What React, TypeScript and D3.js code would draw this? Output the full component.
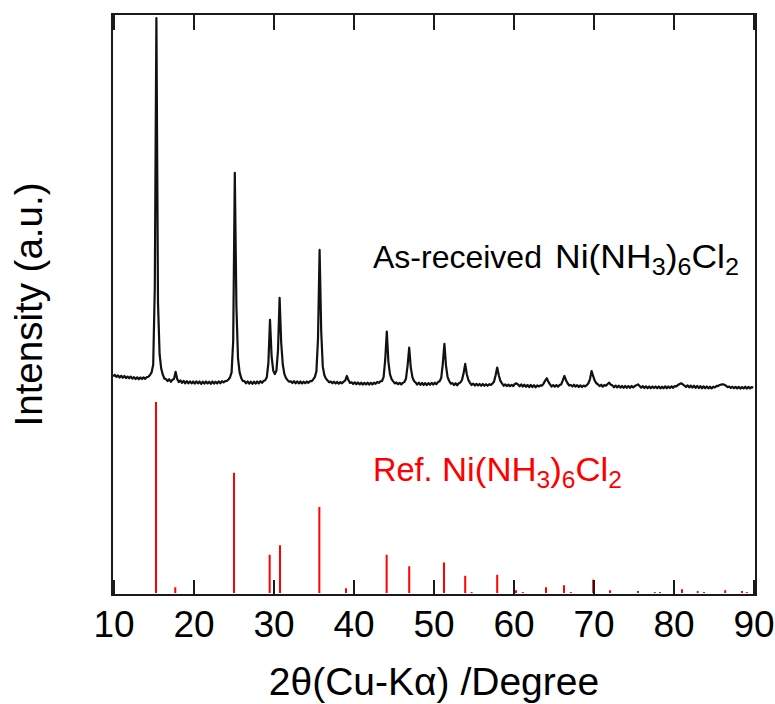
import React from 'react';
import * as d3 from 'd3';

const obsStart = 9.9;
const obsStep = 0.2;
const obsIntensity: number[] = [
  113.4, 114.2, 113.1, 113.9, 112.8, 113.7, 112.7, 113.6, 112.5, 113.3,
  112.4, 113.3, 112.2, 113.0, 112.0, 112.9, 111.9, 112.8, 112.0, 112.9,
  112.1, 113.0, 113.2, 114.1, 115.5, 119.5, 160, 301, 152, 125,
  117.5, 114.3, 112.2, 112.0, 110.9, 111.9, 110.6, 111.6, 112.0, 115.8,
  112.0, 110.4, 111.3, 110.0, 111.0, 109.8, 110.9, 109.8, 110.8, 109.7,
  110.7, 109.6, 110.8, 109.7, 110.7, 109.5, 110.6, 109.6, 110.7, 109.7,
  110.6, 109.5, 110.7, 109.6, 110.6, 109.7, 110.8, 109.8, 110.9, 110.2,
  110.9, 111.0, 111.8, 112.8, 115.5, 132, 220, 150, 123, 115.5,
  112.6, 111.0, 110.9, 109.8, 110.8, 109.6, 110.6, 109.5, 110.6, 109.6,
  110.7, 109.7, 110.9, 110.0, 111.0, 111.4, 113.0, 120.5, 143, 124,
  116.5, 114.6, 116.3, 127, 154.5, 131, 119.5, 114.6, 112.5, 111.4,
  110.6, 110.8, 109.9, 110.9, 109.8, 110.8, 109.7, 110.7, 109.7, 110.6,
  109.8, 110.7, 110.0, 110.9, 110.9, 111.8, 113.0, 116.0, 133, 179.6,
  137, 118.5, 114.0, 112.2, 111.2, 110.3, 110.7, 109.8, 110.6, 109.7,
  110.5, 109.6, 110.4, 109.8, 110.6, 111.2, 113.6, 111.5, 110.0, 110.3,
  109.4, 110.3, 109.3, 110.2, 109.2, 110.1, 109.1, 110.0, 109.2, 110.1,
  109.1, 110.0, 109.2, 110.1, 109.5, 110.4, 110.0, 110.8, 111.0, 113.0,
  122, 136.8, 121, 114.5, 112.0, 110.8, 109.7, 110.2, 109.3, 110.0,
  109.2, 110.0, 110.4, 112.3, 119, 128.4, 118, 113.0, 111.0, 110.2,
  109.1, 110.1, 109.0, 110.0, 108.9, 109.9, 108.8, 109.9, 109.0, 110.0,
  109.1, 110.1, 109.3, 110.4, 110.8, 112.5, 120, 130.4, 119, 113.0,
  111.0, 109.6, 109.9, 108.8, 109.8, 108.7, 109.8, 110.2, 111.5, 115.0,
  119.9, 114.5, 111.5, 110.0, 108.9, 109.6, 108.6, 109.5, 108.6, 109.4,
  108.5, 109.4, 108.5, 109.3, 108.5, 109.3, 108.9, 109.6, 110.6, 114.0,
  118.0, 114.0, 111.0, 109.7, 108.5, 109.2, 108.3, 109.1, 108.2, 109.0,
  108.3, 109.4, 109.8, 109.1, 108.2, 109.2, 108.1, 109.0, 107.9, 108.9,
  107.8, 108.9, 107.8, 108.8, 107.7, 108.7, 108.1, 108.7, 108.6, 109.6,
  111.2, 112.4, 110.5, 109.2, 108.1, 108.8, 108.0, 108.8, 108.0, 108.9,
  109.2, 111.3, 113.6, 111.4, 109.8, 108.6, 108.9, 108.1, 109.0, 108.0,
  108.8, 107.8, 108.7, 107.8, 108.6, 108.1, 108.8, 109.8, 112.0, 116.2,
  113.5, 111.0, 109.8, 109.2, 108.3, 109.0, 108.0, 108.9, 108.5, 109.4,
  110.1, 109.0, 108.7, 107.7, 108.6, 107.6, 108.5, 107.5, 108.4, 107.4,
  108.4, 107.4, 108.3, 107.4, 108.4, 107.6, 108.3, 108.7, 109.2, 108.4,
  107.5, 108.3, 107.3, 108.2, 107.2, 108.1, 107.2, 108.1, 107.3, 108.1,
  107.2, 108.1, 107.1, 108.0, 107.2, 108.2, 107.2, 108.1, 107.3, 108.2,
  107.4, 108.3, 108.2, 108.9, 109.4, 109.8, 109.2, 108.6, 107.8, 108.7,
  107.6, 108.6, 107.5, 108.5, 107.4, 108.4, 107.3, 108.3, 107.2, 108.2,
  107.2, 108.1, 107.1, 108.0, 107.1, 108.0, 107.6, 108.4, 108.3, 108.9,
  109.1, 109.3, 109.0, 108.5, 107.8, 108.0, 107.3, 108.0, 107.2, 107.9,
  107.1, 107.9, 107.0, 107.8, 107.1, 108.0, 107.0, 107.9, 107.1, 107.8,
  107.4,
];

// Reference pattern (stick positions in 2θ and relative intensities)
const refPos: number[] = [
  15.25, 17.66, 25.0, 29.46, 30.75, 35.67, 39.0, 44.08, 46.9, 51.25,
  53.9, 54.7, 57.9, 60.25, 61.1, 64.0, 66.25, 67.1, 69.9, 72.0,
  75.5, 77.6, 78.25, 81.0, 82.96, 83.75, 86.4, 88.5, 89.1,
];
const refIntensity: number[] = [
  100, 3, 63, 20, 25, 45, 2.5, 20, 14, 16,
  9, 0.5, 9.5, 1.5, 0.5, 3, 4, 0.5, 7, 1.5,
  1, 0.5, 0.5, 2, 1, 0.5, 1.5, 1, 0.5,
];

const xTicks: number[] = [10, 20, 30, 40, 50, 60, 70, 80, 90];

const W = 775;
const H = 704;
const FONT = '"Liberation Sans", Arial, sans-serif';

function Formula({ x, y, fill, width }: { x: number; y: number; fill: string; width: number }) {
  return (
    <text
      x={x}
      y={y}
      fontFamily={FONT}
      fontSize={32.5}
      fill={fill}
      textLength={width}
      lengthAdjust="spacingAndGlyphs"
    >
      Ni(NH
      <tspan dy={7} fontSize={23}>3</tspan>
      <tspan dy={-7}>)</tspan>
      <tspan dy={7} fontSize={23}>6</tspan>
      <tspan dy={-7}>Cl</tspan>
      <tspan dy={7} fontSize={23}>2</tspan>
    </text>
  );
}

export default function App() {
  const left = 112, right = 756, top = 14, bottom = 595;
  const x = d3.scaleLinear().domain([9.75, 90.25]).range([left, right]);
  const y = d3.scaleLinear().domain([-1.05, 303.1]).range([bottom, top]);

  const obsData: [number, number][] = obsIntensity.map((v, i) => [obsStart + i * obsStep, v]);
  const line = d3
    .line<[number, number]>()
    .x((d) => x(d[0]))
    .y((d) => y(d[1]));

  const tickLen = 15;
  const axisColor = '#1a1a1a';

  return (
    <svg
      width={W}
      height={H}
      style={{ position: 'absolute', left: 0, top: 0, display: 'block', background: '#fff' }}
    >
      {/* reference sticks */}
      <g stroke="#ff0000" strokeWidth={2}>
        {refPos.map((p, i) => (
          <line key={i} x1={x(p)} x2={x(p)} y1={y(0)} y2={y(refIntensity[i])} />
        ))}
      </g>

      {/* observed pattern */}
      <path d={line(obsData) || ''} fill="none" stroke="#111" strokeWidth={2.2} strokeLinejoin="round" />

      {/* ticks */}
      <g stroke={axisColor} strokeWidth={2}>
        {xTicks.map((t) => (
          <g key={t}>
            <line x1={x(t)} x2={x(t)} y1={bottom} y2={bottom - tickLen} />
            <line x1={x(t)} x2={x(t)} y1={top} y2={top + tickLen + 1} />
          </g>
        ))}
      </g>

      {/* frame */}
      <rect x={left} y={top} width={right - left} height={bottom - top} fill="none" stroke={axisColor} strokeWidth={2} />

      {/* tick labels */}
      <g fontFamily={FONT} fontSize={37} fill="#000" textAnchor="middle">
        {xTicks.map((t) => (
          <text key={t} x={x(t)} y={637}>
            {t}
          </text>
        ))}
      </g>

      {/* axis titles */}
      <text x={(left + right) / 2} y={695} fontFamily={FONT} fontSize={39} textAnchor="middle" fill="#000">
        2θ(Cu-Kα) /Degree
      </text>
      <text
        transform={`translate(42,${(182 + 427) / 2}) rotate(-90)`}
        fontFamily={FONT}
        fontSize={38.5}
        textAnchor="middle"
        fill="#000"
      >
        Intensity (a.u.)
      </text>

      {/* annotations */}
      <text x={373} y={268} fontFamily={FONT} fontSize={32} fill="#000">
        As-received
      </text>
      <Formula x={555} y={268} fill="#000" width={184} />
      <text x={373} y={481} fontFamily={FONT} fontSize={32.5} fill="#ff0000">
        Ref.
      </text>
      <Formula x={442} y={481} fill="#ff0000" width={180} />
    </svg>
  );
}
